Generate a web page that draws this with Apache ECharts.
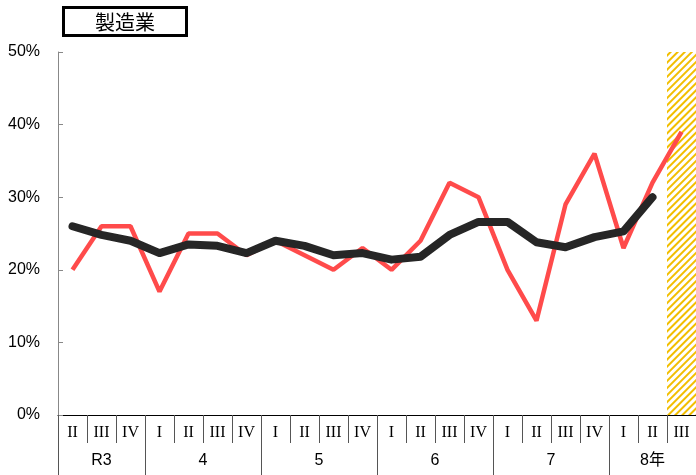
<!DOCTYPE html>
<html lang="ja" style="height: 100%">

<head>
  <meta charset="utf-8" />
</head>

<body style="height: 100%; margin: 0">
  <div id="container" style="height: 475px; width: 696px;"></div>

  <script type="text/javascript" src="https://cdn.jsdelivr.net/npm/echarts@6/dist/echarts.min.js"></script>

  <script type="text/javascript">
    // 四半期ラベル（R3 II 〜 8年 III）
    var quarters = ['II', 'III', 'IV',
      'I', 'II', 'III', 'IV',
      'I', 'II', 'III', 'IV',
      'I', 'II', 'III', 'IV',
      'I', 'II', 'III', 'IV',
      'I', 'II', 'III'];
    // 年ラベルとその区切り
    var years = ['R3', '4', '5', '6', '7', '8年'];
    var yearBounds = [0, 3, 7, 11, 15, 19, 22];
    // 赤線（原系列）
    var actual = [20, 26, 26, 17, 25, 25, 22, 24, 22, 20, 23,
      20, 24, 32, 30, 20, 13, 29, 36, 23, 32, 39];
    // 黒線（移動平均）
    var average = [26, 24.8, 24, 22.3, 23.5, 23.3, 22.3, 24, 23.3, 22, 22.3,
      21.4, 21.8, 24.8, 26.6, 26.6, 23.8, 23.1, 24.5, 25.3, 30, null];
    // 見通し（斜線）
    var outlook = [null, null, null, null, null, null, null, null, null, null, null,
      null, null, null, null, null, null, null, null, null, null, 50];

    var yearCenters = [];
    for (var i = 0; i < years.length; i++) {
      yearCenters.push((yearBounds[i] + yearBounds[i + 1]) / 2);
    }

    var dom = document.getElementById("container");
    var myChart = echarts.init(dom, null, { renderer: "canvas" });

    var option = {
      animation: false,
      title: {
        text: '製造業',
        left: 63,
        top: 7,
        padding: [5, 32, 4, 32],
        borderColor: '#000',
        borderWidth: 3,
        textStyle: {
          fontSize: 20,
          fontWeight: 'normal',
          color: '#000',
          fontFamily: "'Noto Sans CJK JP'"
        }
      },
      grid: { left: 58, right: 0, top: 52, bottom: 60 },
      xAxis: [
        {
          type: 'category',
          data: quarters,
          axisLine: { lineStyle: { color: '#000', width: 1 } },
          axisTick: { show: true, interval: 0, length: 28, lineStyle: { color: '#555' } },
          axisLabel: {
            interval: 0,
            margin: 10,
            color: '#000',
            fontSize: 16,
            fontFamily: "'Liberation Serif'"
          }
        },
        {
          type: 'value',
          position: 'bottom',
          min: 0,
          max: 22,
          axisLine: { show: false },
          splitLine: { show: false },
          axisTick: {
            show: true,
            length: 60,
            customValues: yearBounds,
            lineStyle: { color: '#555' }
          },
          axisLabel: {
            customValues: yearCenters,
            margin: 38,
            color: '#000',
            fontSize: 16,
            fontFamily: "'Liberation Sans', 'Noto Sans CJK JP'",
            formatter: function (v) {
              return years[yearCenters.indexOf(v)];
            }
          }
        }
      ],
      yAxis: {
        type: 'value',
        min: 0,
        max: 50,
        interval: 10,
        axisLine: { show: true, lineStyle: { color: '#888' } },
        axisTick: { show: true, inside: true, length: 5, lineStyle: { color: '#888' } },
        splitLine: { show: false },
        axisLabel: {
          formatter: '{value}%',
          margin: 18,
          color: '#000',
          fontSize: 16,
          fontFamily: "'Liberation Sans'"
        }
      },
      series: [
        {
          type: 'bar',
          xAxisIndex: 0,
          data: outlook,
          barWidth: '100%',
          silent: true,
          z: 1,
          itemStyle: {
            color: '#fff',
            decal: {
              symbol: 'rect',
              color: '#F2BE00',
              dashArrayX: [1, 0],
              dashArrayY: [1.5, 2.5],
              rotation: -Math.PI / 4
            }
          }
        },
        {
          type: 'line',
          xAxisIndex: 0,
          data: actual,
          showSymbol: false,
          z: 3,
          lineStyle: { color: '#FF4B4B', width: 4.5 }
        },
        {
          type: 'line',
          xAxisIndex: 0,
          data: average,
          showSymbol: false,
          z: 4,
          lineStyle: { color: '#262626', width: 8, cap: 'round', join: 'round' }
        }
      ]
    };

    myChart.setOption(option);
    window.addEventListener("resize", myChart.resize);
  </script>
</body>

</html>
